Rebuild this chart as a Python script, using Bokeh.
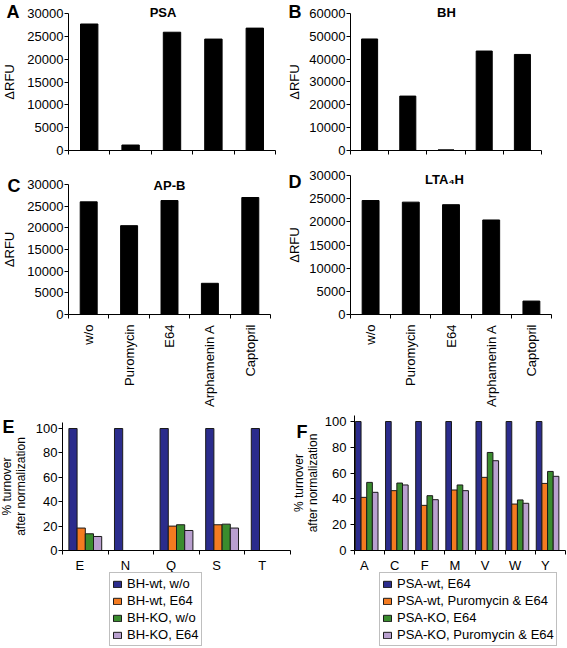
import math
from bokeh.plotting import figure
from bokeh.models import Range1d, FixedTicker, Label, Legend, LegendItem
from bokeh.layouts import column, row
from bokeh.embed import file_html
from bokeh.resources import INLINE

FONT = "Liberation Sans"

# ---------------- data ----------------
inhibitors = ["w/o", "Puromycin", "E64", "Arphamenin A", "Captopril"]
psa_rfu = [27700, 1200, 25900, 24400, 26800]
bh_rfu = [48800, 23700, 0, 43500, 42000]
apb_rfu = [26000, 20500, 26300, 7200, 27000]
lta4h_rfu = [24600, 24250, 23700, 20400, 2900]

e_residues = ["E", "N", "Q", "S", "T"]
e_series = ["BH-wt, w/o", "BH-wt, E64", "BH-KO, w/o", "BH-KO, E64"]
bh_wt_wo = [100, 100, 100, 100, 100]
bh_wt_e64 = [18.4, 0, 20.0, 21.1, 0]
bh_ko_wo = [13.7, 0, 21.1, 21.6, 0]
bh_ko_e64 = [11.5, 0, 16.4, 18.4, 0]

f_residues = ["A", "C", "F", "M", "V", "W", "Y"]
f_series = ["PSA-wt, E64", "PSA-wt, Puromycin & E64", "PSA-KO, E64", "PSA-KO, Puromycin & E64"]
psa_wt_e64 = [100, 100, 100, 100, 100, 100, 100]
psa_wt_puro_e64 = [41.2, 46.4, 35.0, 46.9, 56.7, 36.0, 52.0]
psa_ko_e64 = [52.8, 52.3, 42.5, 50.8, 76.0, 39.2, 61.3]
psa_ko_puro_e64 = [45.1, 50.8, 39.4, 46.4, 69.6, 36.6, 57.5]

rfu_ticks_30k = [0, 5000, 10000, 15000, 20000, 25000, 30000]
rfu_ticks_60k = [0, 10000, 20000, 30000, 40000, 50000, 60000]
pct_ticks = [0, 20, 40, 60, 80, 100]

series_colors = ["#2B2C8C", "#F47B20", "#3A8C2E", "#B9A0CF"]


class Box:
    """Placement of one panel on the page (pixels): figure box, axis span, value scale."""
    def __init__(self, x0, y0, w, h, ax_left, ax_right, zero_px, ref_px, ref_val, axis_top_val):
        self.x0, self.y0, self.w, self.h = x0, y0, w, h
        self.ax_left, self.ax_right = ax_left, ax_right
        self.zero_px, self.ref_px, self.ref_val = zero_px, ref_px, ref_val
        self.axis_top_val = axis_top_val

    def sx(self, page_x):
        return page_x - self.x0

    def sy(self, page_y):
        return (self.y0 + self.h) - page_y


def make_fig(box, names, yticks, ylabel, ylabel_size, ylabel_standoff, ytick_standoff,
             show_labels=True, rotated=False, label_shift=0.0):
    n = len(names)
    cw = (box.ax_right - box.ax_left) / n
    x_range = Range1d(-(box.ax_left - box.x0) / cw, n + (box.x0 + box.w - box.ax_right) / cw)
    ppu = (box.zero_px - box.ref_px) / box.ref_val
    y_range = Range1d(-(box.y0 + box.h - box.zero_px) / ppu, (box.zero_px - box.y0) / ppu)
    p = figure(width=box.w, height=box.h, min_border=0, output_backend="svg",
               toolbar_location=None, x_range=x_range, y_range=y_range)
    p.title.visible = False
    p.grid.visible = False
    p.outline_line_color = None
    p.background_fill_color = "white"
    p.border_fill_color = "white"
    for ax in (p.xaxis[0], p.yaxis[0]):
        ax.axis_line_color = "black"
        ax.axis_line_width = 1
        ax.major_tick_line_color = "black"
        ax.minor_tick_line_color = "black"
        ax.major_label_text_font = FONT
        ax.major_label_text_font_size = "13px"
        ax.major_label_text_color = "black"
        ax.axis_label_text_font = FONT
        ax.axis_label_text_font_style = "normal"
        ax.axis_label_text_color = "black"
    # y axis
    ya = p.yaxis[0]
    ya.fixed_location = 0
    ya.ticker = FixedTicker(ticks=yticks)
    ya.bounds = (0, box.axis_top_val)
    ya.major_tick_out = 4
    ya.major_tick_in = 0
    ya.minor_tick_out = 0
    ya.minor_tick_in = 0
    ya.major_label_standoff = ytick_standoff
    ya.axis_label = ylabel
    ya.axis_label_text_font_size = ylabel_size
    ya.axis_label_standoff = ylabel_standoff
    ya.axis_label_text_line_height = 0.95
    # x axis (category boundaries get the tick marks)
    xa = p.xaxis[0]
    xa.fixed_location = 0
    xa.bounds = (0, n)
    xa.major_tick_out = 0
    xa.major_tick_in = 0
    xa.minor_tick_out = 4
    xa.minor_tick_in = 0
    bounds = list(range(n + 1))
    if not show_labels:
        xa.ticker = FixedTicker(ticks=[], minor_ticks=bounds)
        xa.major_label_standoff = 0
    else:
        major = [i + 0.5 + label_shift for i in range(n)]
        xa.ticker = FixedTicker(ticks=major, minor_ticks=bounds)
        xa.major_label_overrides = {t: nm for t, nm in zip(major, names)}
        if rotated:
            xa.major_label_orientation = math.pi / 2
            xa.major_label_standoff = 6
        else:
            xa.major_label_standoff = 3
    return p


def add_letter(p, box, letter, page_x, page_y):
    p.add_layout(Label(x=box.sx(page_x), y=box.sy(page_y), x_units="screen", y_units="screen",
                       text=letter, text_font=FONT, text_font_size="18px",
                       text_font_style="bold", text_align="left", text_baseline="middle",
                       text_color="black"))


def add_title(p, box, title, page_x, page_y):
    p.add_layout(Label(x=box.sx(page_x), y=box.sy(page_y), x_units="screen", y_units="screen",
                       text=title, text_font=FONT, text_font_size="13px",
                       text_font_style="bold", text_align="center", text_baseline="middle",
                       text_color="black"))


def single_bar_panel(box, values, yticks, show_labels, ylabel_standoff):
    p = make_fig(box, inhibitors, yticks, "ΔRFU", "13px", ylabel_standoff, 1,
                 show_labels=show_labels, rotated=True)
    xs = [i + 0.5 for i in range(len(values))]
    p.vbar(x=xs, top=values, bottom=0, width=0.42, fill_color="black", line_color="black")
    return p


# ---------------- top row (y 0..160) ----------------
boxA = Box(0, 0, 283, 160, 68, 275, 150, 13, 30000, 30000)
pA = single_bar_panel(boxA, psa_rfu, rfu_ticks_30k, False, 7)
add_letter(pA, boxA, "A", 6, 11)
add_title(pA, boxA, "PSA", 162.5, 12)

boxB = Box(283, 0, 283, 160, 350, 541, 149.5, 13, 60000, 60000)
pB = single_bar_panel(boxB, bh_rfu, rfu_ticks_60k, False, 4)
add_letter(pB, boxB, "B", 288, 11)
add_title(pB, boxB, "BH", 446, 12)

# ---------------- middle row (y 160..410) ----------------
boxC = Box(0, 160, 283, 250, 68, 270, 314, 184, 30000, 30000)
pC = single_bar_panel(boxC, apb_rfu, rfu_ticks_30k, True, 7)
add_letter(pC, boxC, "C", 7, 185)
add_title(pC, boxC, "AP-B", 169, 185)

boxD = Box(283, 160, 283, 250, 350, 551, 314, 175, 30000, 30000)
pD = single_bar_panel(boxD, lta4h_rfu, rfu_ticks_30k, True, 4)
add_letter(pD, boxD, "D", 288, 181)
add_title(pD, boxD, "LTA\u2084H", 444, 179)


# ---------------- bottom row (y 410..647) ----------------
def grouped_panel(box, names, series_names, series_vals, bar_w, group_shift, label_shift,
                  legend_page_x, legend_page_bottom, ylabel_standoff, ytick_standoff):
    p = make_fig(box, names, pct_ticks, "% turnover\nafter normalization", "12px",
                 ylabel_standoff, ytick_standoff, label_shift=label_shift)
    k = len(series_vals)
    items = []
    for j, (nm, vals, col) in enumerate(zip(series_names, series_vals, series_colors)):
        off = group_shift + (j - (k - 1) / 2) * bar_w
        xs = [i + 0.5 + off for i in range(len(vals))]
        r = p.vbar(x=xs, top=vals, bottom=0, width=bar_w, fill_color=col,
                   line_color="#1a1a1a", line_width=1)
        items.append(LegendItem(label=nm, renderers=[r]))
    leg = Legend(items=items, location=(box.sx(legend_page_x), box.sy(legend_page_bottom)),
                 orientation="vertical",
                 border_line_color="#7f7f7f", border_line_width=1,
                 background_fill_color="white", background_fill_alpha=1.0,
                 label_text_font=FONT, label_text_font_size="13px", label_text_color="black",
                 glyph_width=10, glyph_height=8, label_height=17, label_standoff=5,
                 padding=2, spacing=0, margin=0)
    p.add_layout(leg)
    return p


boxE = Box(0, 410, 291, 237, 62, 290, 550, 428, 100, 100 * (550 - 422) / (550 - 428))
pE = grouped_panel(boxE, e_residues, e_series, [bh_wt_wo, bh_wt_e64, bh_ko_wo, bh_ko_e64],
                   0.18, 0.0, -0.12, 109, 646, 5, 1)
add_letter(pE, boxE, "E", 2, 426)

boxF = Box(291, 410, 275, 237, 354, 565, 550, 421, 100, 100 * (550 - 415) / (550 - 421))
pF = grouped_panel(boxF, f_residues, f_series,
                   [psa_wt_e64, psa_wt_puro_e64, psa_ko_e64, psa_ko_puro_e64],
                   0.1875, -0.095, -0.17, 379, 646, 2, 4)
add_letter(pF, boxF, "F", 296, 431)

layout = column(row(pA, pB), row(pC, pD), row(pE, pF))

with open("out.html", "w") as f:
    f.write(file_html(layout, INLINE))
